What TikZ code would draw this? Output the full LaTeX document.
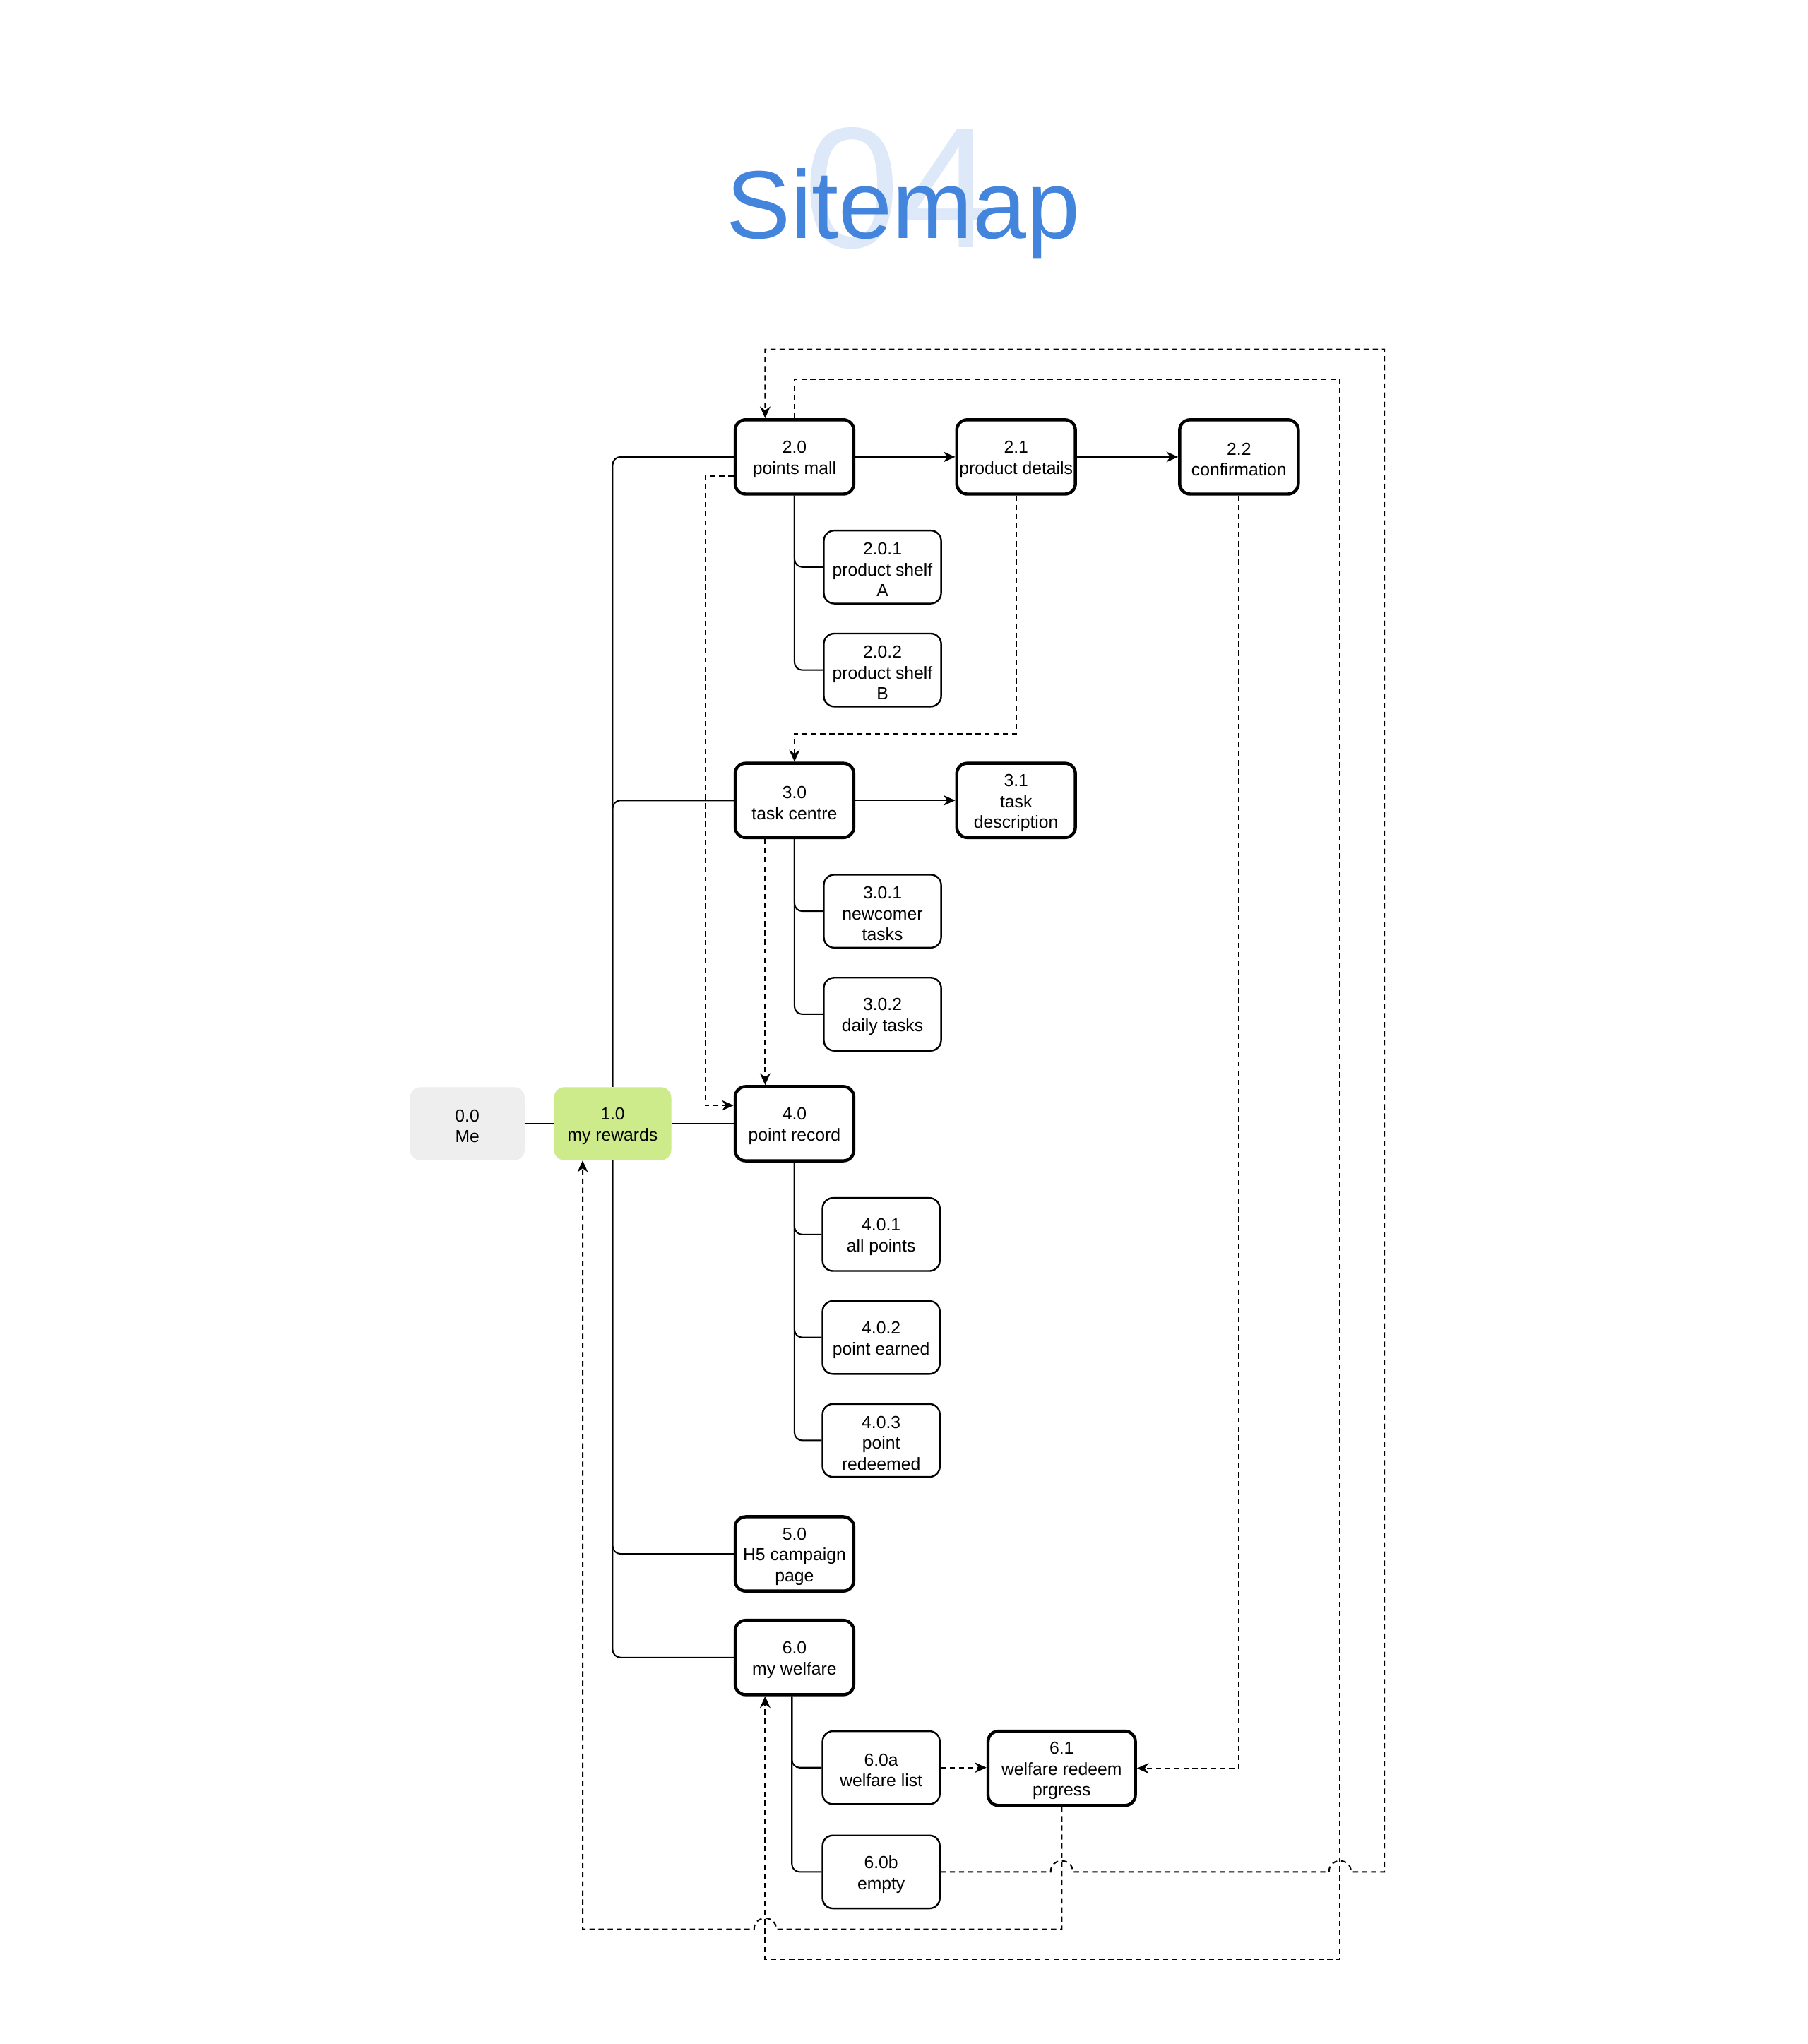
\documentclass[tikz,border=0pt]{standalone}
\usepackage{fontspec}
\setmainfont{Liberation Sans}
\usetikzlibrary{arrows.meta,calc}
\definecolor{titleblue}{RGB}{67,132,220}
\definecolor{numblue}{RGB}{221,232,248}
\definecolor{megray}{RGB}{238,238,238}
\definecolor{rewgreen}{RGB}{205,235,139}
\begin{document}
\begin{tikzpicture}[x=1pt,y=-1pt,
  every node/.style={align=center, inner sep=0pt},
  boxtext/.style={font=\fontsize{13.4}{16}\selectfont, align=center, inner sep=0pt, yshift=-2pt},
  bigbox/.style={draw, line width=2.4pt, rounded corners=8pt, minimum width=91pt, minimum height=57pt, fill=white, label={[boxtext]center:#1}},
  smallbox/.style={draw, line width=1.3pt, rounded corners=8pt, minimum width=90pt, minimum height=56pt, fill=white, label={[boxtext]center:#1}},
  flatbox/.style={rounded corners=8pt, minimum width=88pt, minimum height=56pt, label={[boxtext]center:#1}},
  tree/.style={line width=1.1pt, rounded corners=6pt},
  link/.style={line width=1.1pt, dash pattern=on 4pt off 3pt},
  tip/.style={-{Stealth[length=9pt,width=8pt]}},
]
\fill[white] (0,0) rectangle (1387,1568);
\useasboundingbox (0,0) rectangle (1387,1568);

% title
\node[font=\fontsize{132}{132}\selectfont, text=numblue, anchor=base] (num) at (690,190) {04};
\node[font=\fontsize{74}{74}\selectfont, text=titleblue, anchor=base] (title) at (693,183) {Sitemap};

\coordinate (c20l) at (541,365);
\coordinate (c40l) at (541,848);

% nodes
\node[bigbox={2.0\\points mall}] (n20) at (609.5,350.5) {};
\node[bigbox={2.1\\product details}] (n21) at (779.5,350.5) {};
\node[bigbox={2.2\\confirmation}] (n22) at (950.5,350.5) {};
\node[smallbox={2.0.1\\product shelf\\A}] (n201) at (677,435) {};
\node[smallbox={2.0.2\\product shelf\\B}] (n202) at (677,514) {};
\node[bigbox={3.0\\task centre}] (n30) at (609.5,614) {};
\node[bigbox={3.1\\task\\description}] (n31) at (779.5,614) {};
\node[smallbox={3.0.1\\newcomer\\tasks}] (n301) at (677,699) {};
\node[smallbox={3.0.2\\daily tasks}] (n302) at (677,778) {};
\node[flatbox={0.0\\Me}, fill=megray] (n00) at (358.5,862) {};
\node[flatbox={1.0\\my rewards}, fill=rewgreen, minimum width=90pt] (n10) at (470,862) {};
\node[bigbox={4.0\\point record}] (n40) at (609.5,862) {};
\node[smallbox={4.0.1\\all points}] (n401) at (676,947) {};
\node[smallbox={4.0.2\\point earned}] (n402) at (676,1026) {};
\node[smallbox={4.0.3\\point\\redeemed}] (n403) at (676,1105) {};
\node[bigbox={5.0\\H5 campaign\\page}] (n50) at (609.5,1192) {};
\node[bigbox={6.0\\my welfare}] (n60) at (609.5,1271.5) {};
\node[smallbox={6.0a\\welfare list}] (n60a) at (676,1356) {};
\node[bigbox={6.1\\welfare redeem\\prgress}, minimum width=113pt] (n61) at (814.5,1356.5) {};
\node[smallbox={6.0b\\empty}] (n60b) at (676,1436) {};

% solid tree
\draw[tree] (n00) -- (n10);
\draw[tree] (n10) -- (n40);
\draw[tree] (n10.north) |- (n20.west);
\draw[tree] (n10.north) |- (n30.west);
\draw[tree] (n10.south) |- (n50.west);
\draw[tree] (n10.south) |- (n60.west);
\draw[tree] (n20.south) |- (n201.west);
\draw[tree] (n20.south) |- (n202.west);
\draw[tree] (n30.south) |- (n301.west);
\draw[tree] (n30.south) |- (n302.west);
\draw[tree] (n40.south) |- (n401.west);
\draw[tree] (n40.south) |- (n402.west);
\draw[tree] (n40.south) |- (n403.west);
\draw[tree] ($(n60.south)+(-2,0)$) |- (n60a.west);
\draw[tree] ($(n60.south)+(-2,0)$) |- (n60b.west);
\draw[tree,tip] (n20) -- (n21);
\draw[tree,tip] (n21) -- (n22);
\draw[tree,tip] (n30) -- (n31);

% dashed links
\draw[link,tip] ($(n20.west)+(0,14.5)$) -- (c20l) -- (c40l) -- ($(n40.west)+(0,-14)$);
\draw[link,tip] (n21.south) |- (609.5,563) -- (n30.north);
\draw[link,tip] ($(n30.south)+(-22.5,0)$) -- ($(n40.north)+(-22.5,0)$);
\draw[link,tip] (n22.south) |- (n61.east);
\draw[link,tip] (n60a.east) -- (n61.west |- n60a.east);
\draw[link,tip] (n61.south) -- (814.5,1480) -- (595.5,1480)
   .. controls (595.5,1468.7) and (578.5,1468.7) .. (578.5,1480)
   -- (447,1480) -- ($(n10.south)+(-23,0)$);
\draw[link,tip] (n60b.east) -- (806,1436)
   .. controls (806,1424.7) and (823,1424.7) .. (823,1436)
   -- (1019.5,1436) .. controls (1019.5,1424.7) and (1036.5,1424.7) .. (1036.5,1436)
   -- (1062,1436) -- (1062,268) -- (587,268) -- ($(n20.north)+(-22.5,0)$);
\draw[link,tip] (n20.north) -- (609.5,291) -- (1028,291) -- (1028,1503) -- (587,1503) -- ($(n60.south)+(-22.5,0)$);
\end{tikzpicture}
\end{document}
